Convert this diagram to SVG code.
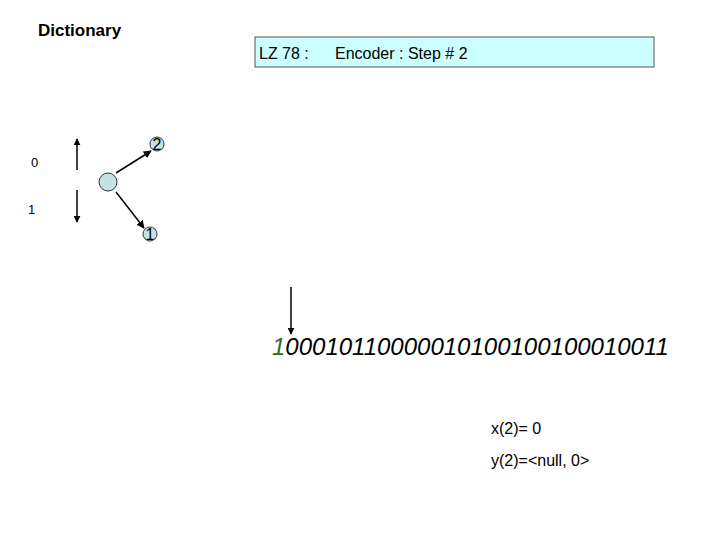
<svg xmlns="http://www.w3.org/2000/svg" width="720" height="540" viewBox="0 0 720 540">
<style>
text{font-family:"Liberation Sans",Arial,sans-serif;fill:#000}
.ln{stroke:#000;stroke-width:1.5;fill:none}
.nd{fill:#c5e2e2;stroke:#333;stroke-width:1}
</style>
<defs>
<marker id="ah" viewBox="0 0 10 10" refX="9" refY="5" markerWidth="7" markerHeight="7" markerUnits="userSpaceOnUse" orient="auto"><path d="M0,0L10,5L0,10z" fill="#000"/></marker>
<marker id="ah2" viewBox="0 0 10 10" refX="9" refY="5" markerWidth="8" markerHeight="8" markerUnits="userSpaceOnUse" orient="auto"><path d="M0,0L10,5L0,10z" fill="#000"/></marker>
</defs>
<rect width="720" height="540" fill="#fff"/>
<text x="38" y="36" font-size="17" font-weight="bold">Dictionary</text>
<g id="title"><rect x="255" y="37" width="399" height="30" fill="#ccffff" stroke="#555" stroke-width="1"/>
<text x="259" y="59" font-size="16">LZ 78 :</text><text x="335" y="59" font-size="16">Encoder : Step # 2</text></g>
<text x="31" y="167" font-size="13">0</text>
<text x="28" y="214" font-size="13">1</text>
<g id="connectors">
<line class="ln" x1="77" y1="170" x2="77" y2="139" marker-end="url(#ah)"/>
<line class="ln" x1="77" y1="190" x2="77" y2="222" marker-end="url(#ah)"/>
<line class="ln" x1="116" y1="173" x2="151" y2="151" stroke-width="2.5" marker-end="url(#ah2)"/>
<line class="ln" x1="116" y1="192" x2="144" y2="228" stroke-width="2.5" marker-end="url(#ah2)"/>
<line class="ln" x1="291" y1="287" x2="291" y2="334" marker-end="url(#ah)"/>
</g>
<g id="root"><circle class="nd" cx="108" cy="182" r="9"/></g>
<g id="n2"><circle class="nd" cx="157" cy="144" r="7"/><text x="157" y="150" font-size="16" text-anchor="middle">2</text></g>
<g id="n1"><circle class="nd" cx="150" cy="234" r="7"/><text x="150" y="240" font-size="16" text-anchor="middle">1</text></g>
<text x="272" y="355" font-size="24" font-style="italic"><tspan fill="#2d6a2d">1</tspan>00010110000010100100100010011</text>
<text x="491" y="434" font-size="16">x(2)= 0</text>
<text x="491" y="466" font-size="16">y(2)=&lt;null, 0&gt;</text>
</svg>
